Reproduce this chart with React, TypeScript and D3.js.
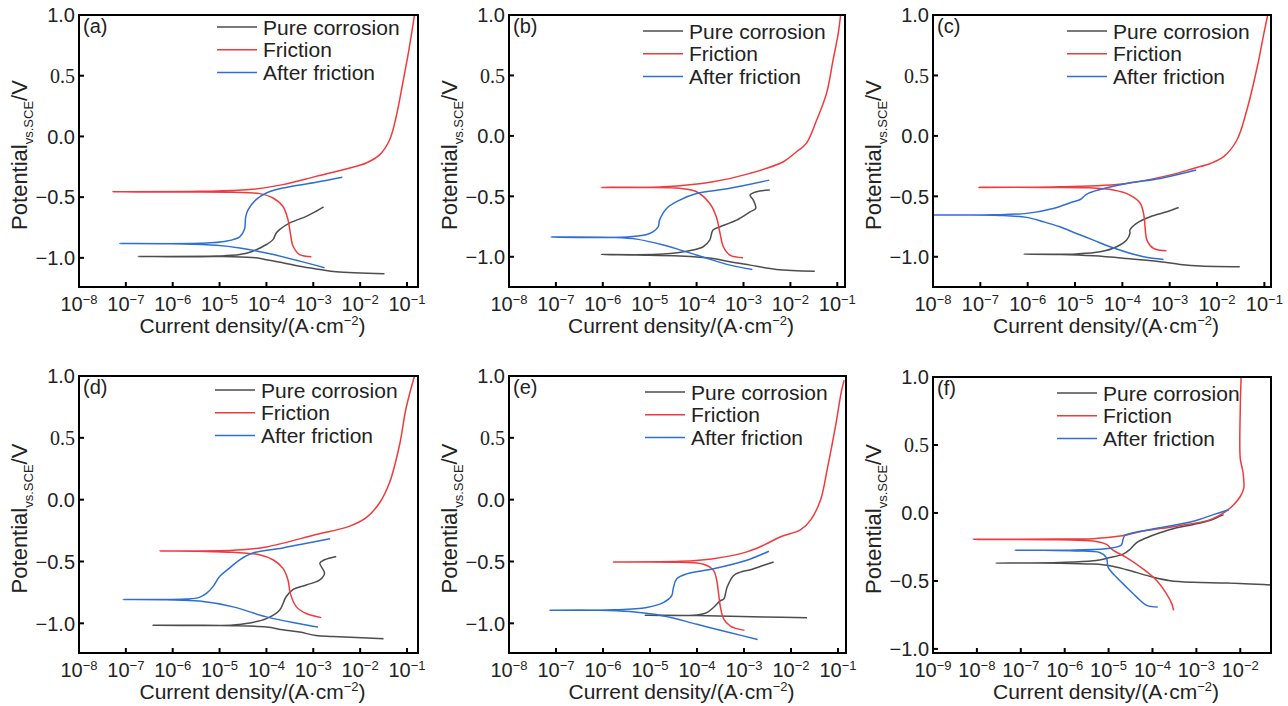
import React from 'react';
import * as d3 from 'd3';

// ---------- data: [log10(current density / A·cm^-2), potential vs SCE / V] ----------
const seriesNames = ['Pure corrosion', 'Friction', 'After friction'];
const panelLabels = ['(a)', '(b)', '(c)', '(d)', '(e)', '(f)'];
const yTickValues = [1.0, 0.5, 0.0, -0.5, -1.0];
const xDecadesMain = [-8, -7, -6, -5, -4, -3, -2, -1];
const xDecadesF = [-9, -8, -7, -6, -5, -4, -3, -2];

const aPure = [[-1.48,-1.13],[-2.51,-1.115],[-2.86,-1.096],[-3.29,-1.07],[-3.65,-1.04],[-4.0,-1.015],[-4.22,-1.0],[-4.71,-0.99],[-5.43,-0.99],[-6.74,-0.988],
  [-5.07,-0.985],[-4.57,-0.973],[-4.29,-0.945],[-4.0,-0.89],[-3.86,-0.85],[-3.79,-0.795],[-3.72,-0.767],[-3.5,-0.712],[-3.15,-0.658],[-2.94,-0.616],[-2.78,-0.58]];
const aFric = [[-3.04,-0.99],[-3.29,-0.973],[-3.43,-0.904],[-3.49,-0.795],[-3.54,-0.685],[-3.65,-0.575],[-3.86,-0.507],[-4.15,-0.471],[-4.71,-0.46],[-6.14,-0.458],[-7.29,-0.455],
  [-5.43,-0.452],[-4.36,-0.438],[-3.65,-0.397],[-2.94,-0.329],[-2.22,-0.26],[-1.87,-0.219],[-1.58,-0.15],[-1.37,-0.027],[-1.23,0.164],[-1.09,0.44],[-0.96,0.71],[-0.84,1.0]];
const aAfter = [[-2.76,-1.082],[-3.29,-1.027],[-4.0,-0.96],[-4.57,-0.918],[-5.07,-0.896],[-5.78,-0.885],[-7.13,-0.882],
  [-5.43,-0.88],[-4.86,-0.863],[-4.57,-0.827],[-4.47,-0.767],[-4.44,-0.658],[-4.39,-0.603],[-4.22,-0.52],[-4.0,-0.466],[-3.65,-0.425],[-2.94,-0.378],[-2.38,-0.337]];

const bPure = [[-1.48,-1.119],[-2.30,-1.105],[-2.86,-1.069],[-3.29,-1.041],[-3.65,-1.014],[-4.36,-0.994],[-5.28,-0.986],[-6.03,-0.981],
  [-4.71,-0.978],[-4.15,-0.95],[-3.86,-0.917],[-3.72,-0.862],[-3.65,-0.779],[-3.5,-0.752],[-3.15,-0.697],[-2.86,-0.628],[-2.74,-0.6],[-2.79,-0.531],[-2.86,-0.49],[-2.72,-0.462],[-2.44,-0.448]];
const bFric = [[-3.01,-1.008],[-3.29,-0.986],[-3.43,-0.917],[-3.5,-0.807],[-3.58,-0.669],[-3.72,-0.559],[-4.0,-0.462],[-4.36,-0.434],[-5.07,-0.426],[-6.03,-0.426],
  [-4.71,-0.421],[-3.65,-0.379],[-2.86,-0.31],[-2.15,-0.214],[-1.87,-0.131],[-1.66,-0.062],[-1.44,0.131],[-1.23,0.352],[-1.09,0.628],[-0.98,0.848],[-0.93,1.0]];
const bAfter = [[-2.81,-1.105],[-3.29,-1.069],[-4.0,-0.986],[-4.71,-0.903],[-5.28,-0.854],[-5.78,-0.84],[-7.10,-0.837],
  [-5.43,-0.834],[-5.0,-0.807],[-4.82,-0.752],[-4.79,-0.697],[-4.64,-0.6],[-4.36,-0.531],[-4.0,-0.476],[-3.29,-0.434],[-2.45,-0.366]];

const cPure = [[-1.52,-1.083],[-2.35,-1.077],[-2.78,-1.063],[-3.2,-1.041],[-3.91,-1.014],[-4.61,-0.992],[-5.32,-0.981],[-6.09,-0.978],
  [-4.97,-0.976],[-4.47,-0.959],[-4.12,-0.917],[-3.91,-0.862],[-3.84,-0.807],[-3.84,-0.779],[-3.7,-0.724],[-3.41,-0.669],[-3.06,-0.628],[-2.81,-0.592]];
const cFric = [[-3.07,-0.95],[-3.34,-0.931],[-3.48,-0.862],[-3.52,-0.752],[-3.54,-0.669],[-3.62,-0.559],[-3.84,-0.49],[-4.19,-0.448],[-4.75,-0.429],[-5.67,-0.426],[-7.03,-0.426],
  [-5.32,-0.421],[-3.91,-0.393],[-2.85,-0.31],[-2.5,-0.269],[-2.14,-0.228],[-1.86,-0.172],[-1.58,-0.034],[-1.37,0.214],[-1.15,0.572],[-1.01,0.848],[-0.93,1.0]];
const cAfter = [[-3.13,-1.022],[-3.55,-1.0],[-4.26,-0.917],[-4.61,-0.862],[-4.97,-0.807],[-5.32,-0.752],[-5.67,-0.71],[-6.02,-0.674],[-6.59,-0.658],[-7.44,-0.655],[-8.0,-0.655],
  [-6.73,-0.653],[-6.02,-0.641],[-5.46,-0.6],[-5.04,-0.545],[-4.89,-0.526],[-4.75,-0.481],[-4.47,-0.443],[-3.91,-0.393],[-3.2,-0.352],[-2.44,-0.283]];

const dPure = [[-1.50,-1.125],[-2.58,-1.106],[-2.94,-1.098],[-3.29,-1.071],[-3.65,-1.052],[-4.0,-1.03],[-4.71,-1.019],[-5.43,-1.016],[-6.42,-1.016],
  [-4.71,-1.014],[-4.36,-0.997],[-4.0,-0.962],[-3.72,-0.894],[-3.58,-0.785],[-3.43,-0.725],[-3.15,-0.69],[-2.86,-0.649],[-2.76,-0.595],[-2.86,-0.513],[-2.76,-0.486],[-2.51,-0.459]];
const dFric = [[-2.83,-0.954],[-3.15,-0.921],[-3.36,-0.867],[-3.49,-0.758],[-3.54,-0.649],[-3.65,-0.554],[-3.86,-0.486],[-4.15,-0.445],[-4.71,-0.426],[-5.43,-0.418],[-6.28,-0.415],
  [-4.71,-0.41],[-4.0,-0.382],[-2.94,-0.282],[-2.22,-0.214],[-1.87,-0.146],[-1.58,-0.023],[-1.37,0.14],[-1.16,0.44],[-1.02,0.739],[-0.84,1.0]];
const dAfter = [[-2.90,-1.03],[-3.29,-1.003],[-4.0,-0.948],[-4.71,-0.867],[-5.43,-0.82],[-6.14,-0.81],[-7.06,-0.807],
  [-5.71,-0.804],[-5.43,-0.79],[-5.28,-0.758],[-5.14,-0.703],[-5.0,-0.622],[-4.79,-0.554],[-4.57,-0.486],[-4.29,-0.431],[-3.65,-0.39],[-2.64,-0.317]];

const ePure = [[-1.66,-0.954],[-2.58,-0.948],[-3.29,-0.943],[-4.0,-0.937],[-4.71,-0.935],[-5.1,-0.935],
  [-4.0,-0.932],[-3.79,-0.913],[-3.65,-0.872],[-3.5,-0.817],[-3.43,-0.804],[-3.36,-0.708],[-3.22,-0.613],[-3.08,-0.586],[-2.86,-0.567],[-2.58,-0.531],[-2.37,-0.504]];
const eFric = [[-2.99,-1.057],[-3.29,-1.022],[-3.43,-0.967],[-3.5,-0.872],[-3.54,-0.763],[-3.58,-0.654],[-3.65,-0.572],[-3.86,-0.523],[-4.36,-0.507],[-5.43,-0.504],[-5.78,-0.504],
  [-4.36,-0.499],[-3.65,-0.477],[-2.94,-0.422],[-2.58,-0.368],[-2.22,-0.3],[-1.8,-0.245],[-1.58,-0.163],[-1.37,0.0],[-1.23,0.245],[-1.05,0.6],[-0.93,0.872],[-0.87,0.967]];
const eAfter = [[-2.71,-1.131],[-3.29,-1.076],[-4.0,-1.008],[-4.71,-0.94],[-5.43,-0.905],[-6.14,-0.894],[-7.13,-0.894],
  [-5.78,-0.891],[-5.07,-0.872],[-4.71,-0.831],[-4.54,-0.777],[-4.5,-0.708],[-4.43,-0.64],[-4.22,-0.6],[-3.65,-0.559],[-2.94,-0.49],[-2.47,-0.417]];

const fPure = [[-1.31,-0.529],[-2.30,-0.515],[-3.07,-0.51],[-3.6,-0.498],[-3.98,-0.473],[-4.59,-0.417],[-4.97,-0.388],[-5.35,-0.376],[-6.12,-0.369],[-7.57,-0.369],
  [-6.12,-0.364],[-5.35,-0.352],[-4.97,-0.328],[-4.67,-0.303],[-4.51,-0.267],[-4.36,-0.218],[-4.13,-0.182],[-3.83,-0.146],[-3.45,-0.109],[-3.07,-0.085],[-2.68,-0.053],[-2.38,-0.012]];
const fFric = [[-3.52,-0.716],[-3.56,-0.667],[-3.68,-0.595],[-3.9,-0.498],[-4.21,-0.413],[-4.59,-0.328],[-4.9,-0.274],[-5.05,-0.231],[-5.35,-0.206],[-6.12,-0.197],[-8.08,-0.194],
  [-6.12,-0.192],[-5.35,-0.189],[-4.74,-0.17],[-4.21,-0.133],[-3.45,-0.097],[-2.68,-0.049],[-2.38,0.0],[-2.15,0.061],[-2.0,0.121],[-1.92,0.182],[-1.94,0.303],[-2.0,0.4],[-2.0,0.765],[-1.98,1.007]];
const fAfter = [[-3.88,-0.692],[-4.13,-0.68],[-4.36,-0.619],[-4.59,-0.546],[-4.82,-0.473],[-5.01,-0.4],[-5.05,-0.328],[-5.2,-0.291],[-5.74,-0.279],[-6.5,-0.274],[-7.13,-0.274],
  [-5.74,-0.272],[-4.97,-0.26],[-4.71,-0.235],[-4.67,-0.194],[-4.63,-0.165],[-4.44,-0.146],[-3.83,-0.109],[-3.07,-0.061],[-2.61,-0.012],[-2.26,0.024]];

const panelSeries = [
  [aPure, aFric, aAfter],
  [bPure, bFric, bAfter],
  [cPure, cFric, cAfter],
  [dPure, dFric, dAfter],
  [ePure, eFric, eAfter],
  [fPure, fFric, fAfter],
];

// ---------- styling / layout ----------
const colors = ['#4d4d4d', '#ef3b3d', '#2e6fd4'];
const FONT = 'Liberation Sans, Arial, Helvetica, sans-serif';

const layouts = [
  { x0: 79, x1: 418, y0: 15, y1: 287, xMin: -8, xMax: -0.765, yMin: -1.24, yMax: 1.0, legX: 217, legY: 27, dec: xDecadesMain },
  { x0: 509, x1: 845, y0: 15, y1: 287, xMin: -8, xMax: -0.836, yMin: -1.25, yMax: 1.0, legX: 643, legY: 31, dec: xDecadesMain },
  { x0: 933, x1: 1271, y0: 15, y1: 287, xMin: -8, xMax: -0.86, yMin: -1.25, yMax: 1.0, legX: 1067, legY: 31, dec: xDecadesMain },
  { x0: 79, x1: 418, y0: 376, y1: 653, xMin: -8, xMax: -0.765, yMin: -1.24, yMax: 1.0, legX: 215, legY: 390, dec: xDecadesMain },
  { x0: 509, x1: 846, y0: 376, y1: 653, xMin: -8, xMax: -0.83, yMin: -1.24, yMax: 1.0, legX: 645, legY: 392, dec: xDecadesMain },
  { x0: 933, x1: 1271, y0: 377, y1: 653, xMin: -9, xMax: -1.3, yMin: -1.03, yMax: 1.0, legX: 1057, legY: 393, dec: xDecadesF },
];

function fmtY(v: number) {
  const s = Math.abs(v).toFixed(1);
  return v < 0 ? '\u2212' + s : s;
}

function Panel({ idx }: { idx: number }) {
  const L = layouts[idx];
  const x = d3.scaleLog().domain([Math.pow(10, L.xMin), Math.pow(10, L.xMax)]).range([L.x0, L.x1]);
  const y = d3.scaleLinear().domain([L.yMin, L.yMax]).range([L.y1, L.y0]);
  const line = d3
    .line<number[]>()
    .x((d) => x(Math.pow(10, d[0])))
    .y((d) => y(d[1]))
    .curve(d3.curveCatmullRom.alpha(0.5));
  const clipId = 'clip' + idx;
  const cy = (L.y0 + L.y1) / 2 + 4;
  const ytx = L.x0 - 52;
  return (
    <g fontFamily={FONT}>
      <defs>
        <clipPath id={clipId}>
          <rect x={L.x0} y={L.y0} width={L.x1 - L.x0} height={L.y1 - L.y0} />
        </clipPath>
      </defs>
      <g clipPath={`url(#${clipId})`}>
        {panelSeries[idx].map((s, i) => (
          <path key={i} d={line(s as number[][]) || ''} fill="none" stroke={colors[i]} strokeWidth={1.5} strokeLinejoin="round" />
        ))}
      </g>
      {/* frame */}
      <rect x={L.x0} y={L.y0} width={L.x1 - L.x0} height={L.y1 - L.y0} fill="none" stroke="#000" strokeWidth={2} />
      {/* x ticks */}
      {L.dec.map((e) => {
        const px = x(Math.pow(10, e));
        return (
          <g key={'x' + e}>
            <line x1={px} x2={px} y1={L.y1} y2={L.y1 - 5} stroke="#000" strokeWidth={2} />
            <text x={px} y={L.y1 + 24} textAnchor="middle" fontSize={20} fill="#222">
              <tspan>10</tspan>
              <tspan dy={-7} fontSize={13}>{'\u2212' + Math.abs(e)}</tspan>
            </text>
          </g>
        );
      })}
      {/* y ticks */}
      {yTickValues.map((v) => {
        const py = y(v);
        return (
          <g key={'y' + v}>
            <line x1={L.x0} x2={L.x0 + 5} y1={py} y2={py} stroke="#000" strokeWidth={2} />
            <text
              x={L.x0 - 4}
              y={py}
              dy="0.36em"
              textAnchor="end"
              fontSize={20}
              fill="#222"
              fontFamily={v === 0.5 ? 'Liberation Serif, Times New Roman, serif' : FONT}
            >
              {fmtY(v)}
            </text>
          </g>
        );
      })}
      {/* panel label */}
      <text x={L.x0 + 4} y={L.y0 + 18} fontSize={20} fill="#222">
        {panelLabels[idx]}
      </text>
      {/* legend */}
      {seriesNames.map((n, i) => {
        const ly = L.legY + i * 22.7;
        return (
          <g key={n}>
            <line x1={L.legX} x2={L.legX + 40} y1={ly} y2={ly} stroke={colors[i]} strokeWidth={1.5} />
            <text x={L.legX + 46} y={ly} dy="0.36em" fontSize={21} fill="#222">
              {n}
            </text>
          </g>
        );
      })}
      {/* x title */}
      <text x={(L.x0 + L.x1) / 2 + 4} y={L.y1 + 46} textAnchor="middle" fontSize={21} fill="#222">
        <tspan>Current density/(A·cm</tspan>
        <tspan dy={-8} fontSize={13}>{'\u22122'}</tspan>
        <tspan dy={8}>)</tspan>
      </text>
      {/* y title */}
      <text transform={`translate(${ytx},${cy}) rotate(-90)`} textAnchor="middle" fontSize={22} fill="#222">
        <tspan>Potential</tspan>
        <tspan dy={6} fontSize={13}>vs.SCE</tspan>
        <tspan dy={-6}>/V</tspan>
      </text>
    </g>
  );
}

export default function App() {
  return (
    <svg width={1288} height={706} style={{ position: 'absolute', left: 0, top: 0, background: '#fff' }}>
      <rect x={0} y={0} width={1288} height={706} fill="#fff" />
      {layouts.map((_, i) => (
        <Panel key={i} idx={i} />
      ))}
    </svg>
  );
}
